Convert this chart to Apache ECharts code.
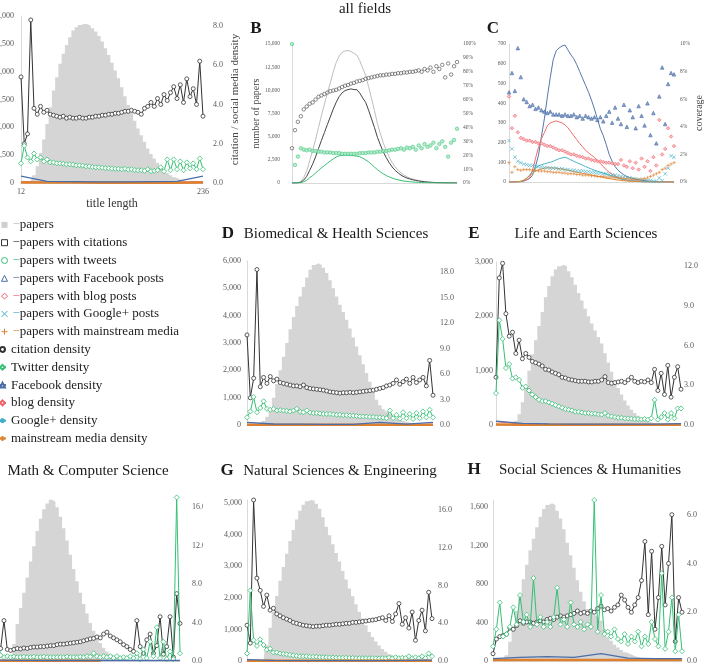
<!DOCTYPE html>
<html><head><meta charset="utf-8">
<script src="https://cdn.jsdelivr.net/npm/echarts@6/dist/echarts.min.js"></script>
<style>html,body{margin:0;padding:0;background:#fff}#c{width:706px;height:664px}</style>
</head><body><div id="c"></div>
<script>
// ---------- DATA ----------
const LEN = [12,16,20,24,28,32,36,40,44,48,52,56,60,64,68,72,76,80,84,88,92,96,100,104,108,112,116,120,124,128,132,136,140,144,148,152,156,160,164,168,172,176,180,184,188,192,196,200,204,208,212,216,220,224,228,232,236];
const TX = [12,44,76,108,140,172,204,236];

// A: all fields
const A_PAPERS = [0,0,30,200,700,1500,2700,3900,5300,6800, 8300,9500,10700,11600,12400,13100,13700,14000,14200,14300, 14250,14100,13900,13600,13200,12700,12100,11500,10800,10100, 9400,8600,7800,7000,6300,5600,4900,4300,3700,3100, 2600,2200,1800,1450,1150,900,700,520,380,270, 190,130,90,60,40,25,15];
const A_CIT = [5.4,2.0,2.5,8.3,3.8,3.5,3.9,3.6,3.7,3.5, 3.45,3.4,3.35,3.4,3.3,3.35,3.3,3.3,3.35,3.3, 3.3,3.35,3.35,3.4,3.4,3.45,3.45,3.5,3.5,3.55, 3.55,3.6,3.65,3.65,3.7,3.65,3.6,3.5,3.8,3.9, 4.1,3.9,4.3,4.0,4.5,4.2,4.6,4.9,4.3,5.0, 4.1,5.3,4.4,4.8,4.0,6.2,3.4];
const A_TW = [1.0,1.9,1.3,1.1,1.5,1.2,1.3,1.1,1.2,1.05, 1.05,1.0,1.0,0.98,0.95,0.95,0.93,0.9,0.9,0.88, 0.85,0.85,0.82,0.8,0.8,0.78,0.75,0.75,0.73,0.72, 0.72,0.7,0.72,0.68,0.7,0.66,0.65,0.65,0.62,0.7, 0.6,0.62,0.65,0.8,0.6,1.2,0.65,1.2,0.7,1.1, 0.65,1.05,0.75,1.0,0.7,1.25,0.7];
const A_FB = [0.35,0.08,0.07,0.06,0.06,0.07,0.08,0.35];
const A_BLOG = [0.08,0.04,0.03,0.03,0.03,0.03,0.04,0.08];
const A_GP = [0.03,0.02,0.02,0.01,0.01,0.01,0.02,0.03];
const A_MSM = [0.02,0.02,0.02,0.01,0.01,0.01,0.01,0.02];

// B: counts and coverage, all fields
const B_PAPERS = [0,0,30,180,600,1300,2400,3500,4700,6000, 7300,8500,9700,10800,12000,13000,13700,14100,14250,14300, 14200,14000,13800,13200,12400,11600,10400,9100,7800,6400, 5300,4300,3500,2800,2200,1750,1380,1080,850,670, 540,430,340,270,210,160,120,90,70,50, 35,25,18,12,8,5,3];
const B_CITED = [0,0,13,86,318,715,1368,2030,2820,3720, 4600,5440,6305,7128,7980,8710,9316,9729,9975,10082, 10153,10080,10074,9702,9176,8700,7852,6916,5967,4928, 4108,3333,2730,2184,1727,1374,1090,853,676,533, 432,344,274,219,168,131,97,75,56,42, 29,21,14,10,6,4,3];
const B_TWEETED = [0,0,6,40,140,300,560,800,1080,1350, 1640,1870,2130,2380,2600,2800,2940,2980,3000,3010, 2980,2940,2900,2840,2670,2490,2290,2000,1720,1440, 1190,990,800,660,530,420,340,270,205,170, 135,110,82,72,52,45,31,24,20,12, 10,7,5,2,2,2,1];
const B_CITCOV = [25,38,44,48,53,55,57,58,60,62, 63,64,65,66,66.5,67,68,69,70,70.5, 71.5,72,73,73.5,74,75,75.5,76,76.5,77, 77.5,77.5,78,78,78.5,78.5,79,79,79.5,79.5, 80,80,80.5,81,80,82,81,83,80,84, 82,85,76,86,78,84,87];
const B_TWCOV = [100,13,19,25,24,23.5,24,23,23,22.5, 22.5,22,22,22,21.5,21.5,21.5,21,21,21, 21,21,21,21.5,21.5,21.5,22,22,22,22.5, 22.5,23,23,23.5,24,24,24.5,25,24,25.5, 25,26,24,27,25,28,26,27,29,25, 28,30,26,19,29,31,39];

// C: social media counts and coverage, all fields
const C_FB = [0,0,0,0,2,5,10,18,35,80, 135,230,320,430,530,620,665,680,690,695, 670,645,625,595,560,525,490,455,415,370, 320,270,235,190,140,105,78,60,47,36, 28,22,18,14,11,9,7,5,4,3, 2,1,1,0,0,0,0];
const C_BLOG = [0,0,0,1,2,5,10,25,60,120, 175,220,250,285,300,305,310,305,300,290, 275,255,235,215,195,178,160,148,136,125, 108,94,78,62,50,40,30,22,16,12, 9,6,5,4,3,2,2,1,1,0, 0,0,0,0,0,0,0];
const C_GP = [0,0,0,1,3,8,18,35,55,72, 82,88,92,96,100,105,112,118,122,125, 120,112,105,98,92,85,78,72,66,60, 55,50,45,40,35,30,25,20,16,12, 9,7,5,4,3,2,1,1,0,0, 0,0,0,0,0,0,0];
const C_MSM = [0,0,0,1,4,10,20,33,45,55, 62,67,70,72,72,71,70,68,66,63, 60,57,53,50,47,44,41,38,35,32, 29,26,23,20,17,15,12,10,8,6, 5,4,3,2,2,1,1,0,0,0, 0,0,0,0,0,0,0];
const C_FBCOV = [6.5,7.9,6.6,9.7,7.6,6.0,5.8,5.5,5.6,5.3, 5.4,5.2,5.1,5.0,5.1,4.9,4.9,4.9,4.8,4.9, 4.8,4.8,4.9,4.7,4.8,4.6,4.8,4.7,4.6,4.7, 4.5,4.7,4.4,4.8,5.1,4.3,5.4,4.6,4.2,5.6, 4.0,5.2,4.7,3.9,5.5,4.8,4.1,5.7,3.4,5.0, 2.8,6.2,8.3,4.2,7.1,7.9,7.8];
const C_BLOGCOV = [6.2,3.9,4.8,3.6,3.2,3.1,3.0,3.0,2.9,2.9, 2.8,2.8,2.7,2.6,2.6,2.5,2.4,2.3,2.3,2.2, 2.1,2.0,2.0,1.9,1.85,1.8,1.7,1.7,1.6,1.55, 1.5,1.5,1.45,1.4,1.4,1.35,1.3,1.3,1.6,1.2, 1.1,1.5,1.0,1.4,0.9,1.7,1.1,1.5,0.8,1.8, 1.2,4.5,2.0,2.4,3.9,3.3,2.6];
const C_GPCOV = [3.0,2.4,1.8,1.5,1.4,1.3,1.25,1.2,1.2,1.15, 1.1,1.1,1.05,1.05,1.0,1.0,1.0,0.95,0.95,0.9, 0.9,0.85,0.85,0.8,0.8,0.8,0.75,0.75,0.7,0.7, 0.65,0.65,0.6,0.6,0.55,0.5,0.5,0.45,0.4,0.35, 0.3,0.3,0.25,0.2,0.2,0.15,0.1,0.1,0.1,0.05, 0.05,0.3,0.1,0.6,1.0,1.9,1.8];
const C_MSMCOV = [1.4,0.7,1.1,0.9,0.85,0.9,0.9,0.9,0.85,0.85, 0.8,0.8,0.8,0.75,0.75,0.7,0.7,0.7,0.65,0.65, 0.6,0.6,0.6,0.55,0.55,0.5,0.5,0.5,0.45,0.45, 0.4,0.4,0.4,0.35,0.35,0.35,0.3,0.3,0.3,0.25, 0.25,0.2,0.2,0.2,0.15,0.2,0.25,0.3,0.4,0.5, 0.6,0.7,0.9,1.0,1.2,1.3,1.4];

// D: Biomedical & Health Sciences
const D_PAPERS = [0,0,0,20,60,150,300,600,1000,1500, 2000,2500,3000,3500,3950,4350,4700,5050,5400,5680, 5850,5920,5850,5750,5560,5300,5000,4700,4400,4130, 3850,3530,3200,2870,2550,2220,1900,1580,1250,920, 720,580,490,400,320,240,180,140,100,75, 55,40,30,20,12,8,5];
const D_CIT = [10.6,3.2,5.5,18.3,4.5,5.6,4.9,5.7,5.2,5.4, 5.0,4.9,4.8,4.7,4.6,4.6,4.5,4.7,4.4,4.3, 4.25,4.2,4.15,4.1,4.0,3.9,3.85,3.8,3.75,3.8, 3.8,3.85,3.8,3.85,3.9,3.95,4.0,4.05,4.1,4.2, 4.3,4.4,4.6,4.7,4.9,5.3,4.8,5.1,5.4,4.9, 5.6,5.0,5.3,5.6,4.6,7.6,3.5];
const D_TW = [0.9,1.6,3.3,1.5,2.0,2.8,1.9,1.8,1.9,1.7, 1.75,1.7,1.65,1.6,1.7,1.9,1.55,1.5,1.7,1.45, 1.4,1.4,1.35,1.3,1.3,1.3,1.25,1.2,1.2,1.15, 1.15,1.1,1.1,1.05,1.0,1.0,1.0,0.95,0.95,0.9, 0.9,0.85,0.8,1.7,0.8,1.2,0.75,1.5,0.8,1.3, 0.7,1.4,0.8,1.6,0.9,1.8,0.9];
const D_FB = [0.3,0.12,0.1,0.08,0.08,0.3,0.1,0.3];
const D_BLOG = [0.08,0.05,0.04,0.04,0.04,0.05,0.05,0.08];
const D_GP = [0.03,0.02,0.02,0.02,0.01,0.01,0.02,0.03];
const D_MSM = [0.03,0.03,0.02,0.02,0.02,0.02,0.02,0.03];

// E: Life and Earth Sciences
const E_PAPERS = [0,0,0,0,10,30,80,200,420,720, 1000,1300,1560,1820,2080,2350,2560,2740,2860,2920, 2950,2920,2830,2720,2580,2430,2290,2140,2000,1870, 1740,1620,1500,1320,1150,980,820,680,560,450, 360,280,220,170,120,85,60,42,30,20, 14,9,6,4,2,1,0];
const E_CIT = [3.6,11.1,12.2,8.4,6.7,7.0,5.4,6.4,5.0,5.4, 5.1,4.8,4.7,4.6,4.45,4.2,4.15,4.0,3.9,3.8, 3.6,3.55,3.45,3.4,3.35,3.3,3.3,3.3,3.25,3.25, 3.3,3.3,3.4,3.65,3.2,3.15,3.2,3.25,3.3,3.2, 3.4,3.6,3.3,3.2,3.3,3.25,3.4,3.2,4.2,2.6, 3.9,2.3,4.5,2.1,3.6,4.4,2.7];
const E_TW = [2.4,7.9,6.5,4.3,4.6,3.5,3.6,3.4,2.8,2.9, 2.6,2.3,2.1,1.9,1.8,1.8,1.7,1.6,1.5,1.4, 1.3,1.2,1.15,1.1,1.0,1.0,0.95,0.9,0.9,0.85, 0.85,0.8,0.78,0.9,0.7,0.65,0.6,0.55,0.55,0.5, 0.5,0.48,0.45,0.45,0.42,0.45,0.4,0.5,1.9,0.4, 0.6,0.9,0.4,0.9,0.5,1.25,1.25];
const E_FB = [0.3,0.12,0.08,0.06,0.06,0.06,0.06,0.1];
const E_BLOG = [0.25,0.06,0.04,0.03,0.03,0.03,0.03,0.05];
const E_GP = [0.05,0.02,0.02,0.01,0.01,0.01,0.01,0.02];
const E_MSM = [0.03,0.02,0.02,0.01,0.01,0.01,0.01,0.02];

// F: Math & Computer Science
const F_PAPERS = [0,0,0,0,0,30,180,390,560,720, 880,1050,1210,1370,1500,1600,1660,1700,1680,1620, 1520,1400,1270,1120,970,840,720,600,500,400, 320,250,190,140,100,70,50,35,25,18, 12,8,5,3,2,1,0,0,0,0, 0,0,0,0,0,0,0];
const F_CIT = [1.2,1.0,1.3,4.2,1.2,1.1,1.2,1.3,1.25,1.35, 1.3,1.4,1.45,1.45,1.5,1.5,1.55,1.6,1.6,1.7, 1.75,1.75,1.8,1.85,1.9,1.95,2.0,2.1,2.2,2.3, 2.35,2.5,2.4,2.8,3.0,2.6,2.4,2.2,2.0,1.7, 1.5,1.2,1.0,4.2,1.5,0.8,2.2,2.8,0.8,1.6, 4.6,0.7,1.5,4.6,0.4,7.0,3.9];
const F_TW = [0.5,2.5,0.6,0.4,0.5,0.4,0.45,0.4,0.4,0.45, 0.4,0.4,0.45,0.4,0.4,0.45,0.4,0.4,0.4,0.4, 0.4,0.4,0.45,0.4,0.4,0.4,0.45,0.4,0.5,0.45, 0.8,0.5,0.4,0.5,0.4,0.5,0.3,0.5,0.3,0.4, 0.3,0.5,0.3,0.8,0.2,1.2,0.3,2.0,0.5,3.5, 0.3,2.0,0.2,1.0,0.2,17.0,0.8];
const F_FB = [0.1,0.06,0.05,0.05,0.05,0.05,0.05,0.05];
const F_BLOG = [0.05,0.04,0.03,0.03,0.03,null,null,null];
const F_GP = [0.03,0.02,0.02,0.02,0.02,null,null,null];
const F_MSM = [0.03,0.03,0.03,0.03,0.03,null,null,null];

// G: Natural Sciences & Engineering
const G_PAPERS = [0,0,0,0,0,30,500,1050,1560,2060, 2540,2980,3400,3800,4150,4480,4760,4950,5060,5100, 5080,4980,4820,4550,4250,3980,3700,3420,3150,2850, 2580,2300,2050,1800,1560,1350,1130,920,760,620, 490,380,290,210,160,120,85,60,45,32, 22,15,10,6,4,2,1];
const G_CIT = [3.8,1.9,17.1,8.8,7.5,5.8,7.0,5.4,5.6,5.0, 4.8,4.6,4.45,4.3,4.1,4.0,3.9,3.8,3.75,3.7, 3.65,3.7,3.7,3.75,3.8,3.8,3.85,3.9,3.9,3.95, 4.0,4.0,4.1,4.1,4.15,4.2,4.25,4.3,4.35,4.4, 4.5,4.6,4.3,4.8,4.2,5.0,6.1,3.9,4.6,3.5, 5.2,2.2,4.3,5.4,3.2,7.3,4.5];
const G_TW = [0.8,7.5,2.2,1.6,2.3,1.7,1.2,1.3,0.9,0.9, 0.8,0.75,0.7,0.65,0.6,0.55,0.5,0.5,0.5,0.45, 0.45,0.45,0.4,0.4,0.4,0.38,0.38,0.35,0.35,0.35, 0.35,0.33,0.33,0.3,0.3,0.3,0.3,0.3,0.3,0.28, 0.28,0.3,0.28,0.35,0.28,0.4,0.3,0.35,0.3,0.5, 0.3,0.4,0.3,0.5,0.3,0.8,0.5];
const G_FB = [0.15,0.06,0.05,0.05,0.05,0.05,0.06,0.1];
const G_BLOG = [0.06,0.04,0.03,0.03,0.03,0.03,0.03,0.05];
const G_GP = [0.02,0.02,0.01,0.01,0.01,0.01,0.01,0.02];
const G_MSM = [0.03,0.02,0.02,0.02,0.02,0.02,0.02,0.03];

// H: Social Sciences & Humanities
const H_PAPERS = [0,0,0,10,60,200,360,520,680,850, 1000,1150,1270,1390,1500,1580,1620,1640,1620,1560, 1480,1370,1230,1100,970,840,720,620,540,490, 470,450,420,330,250,210,170,140,115,90, 75,60,45,35,28,20,15,12,9,7, 5,4,3,2,1,1,0];
const H_CIT = [0.3,0.9,1.0,1.05,1.1,1.35,1.3,1.45,1.65,1.55, 1.6,1.6,1.55,1.6,1.65,1.6,1.7,1.75,1.7,1.8, 1.85,1.8,1.85,1.9,1.95,2.05,1.95,2.0,1.95,2.05, 2.0,2.15,2.25,2.1,2.15,2.05,2.2,2.3,2.7,2.5, 2.2,2.0,2.3,2.6,3.3,4.9,1.9,4.5,1.3,2.6, 4.7,2.3,4.0,6.0,0.8,2.6,2.0];
const H_TW = [0.6,1.3,2.4,1.0,1.1,1.4,2.2,1.5,2.7,1.6, 1.9,1.4,3.4,1.5,1.8,1.4,1.6,1.4,1.8,3.0, 1.5,1.7,1.4,2.4,1.5,1.4,1.6,1.3,1.5,1.4, 6.6,1.2,2.7,1.1,1.2,1.0,1.3,0.9,0.8,1.1, 0.7,1.0,0.8,1.2,0.6,1.0,0.7,1.6,0.9,0.6, 3.6,0.5,1.2,2.6,0.4,1.9,0.4];
const H_FB = [0.1,0.15,0.18,0.15,0.3,0.12,0.1,0.1];
const H_BLOG = [0.05,0.05,0.05,0.04,0.04,0.04,0.04,0.05];
const H_GP = [0.02,0.02,0.02,0.02,0.02,0.02,0.02,0.02];
const H_MSM = [0.04,0.04,0.04,0.04,0.04,0.04,0.04,0.04];

// ---------- STYLE / LAYOUT ----------
const FONT = '"Liberation Serif","Times New Roman",serif';
const K_HIST = '#d5d5d5', K_CIT = '#333333', K_TW = '#35bf73', K_FB = '#4a6ea8',
      K_BLOG = '#f0606a', K_GP = '#3fb0c8', K_MSM = '#dd8030', K_PL = '#bdbdbd', LBL = '#595959';
const SYM_X = 'path://M0,0L10,10M10,0L0,10';
const SYM_PLUS = 'path://M5,0L5,10M0,5L10,5';
const SYM_AST = 'path://M5,0L5,10M0,5L10,5M1.5,1.5L8.5,8.5M8.5,1.5L1.5,8.5';
const pairs = (xs, ys) => xs.map((x, i) => [x, ys[i]]);
const fmtN = v => Math.round(v).toLocaleString('en-US');
const fmt1 = v => v.toFixed(1);
const fmtP = v => Math.round(v) + '%';

const GRIDS = [
  {left:21, top:16, width:182, height:167},   // A
  {left:292, top:44, width:165, height:139},  // B
  {left:509, top:44, width:165, height:138},  // C
  {left:247, top:261, width:186, height:164}, // D
  {left:496, top:262, width:185, height:163}, // E
  {left:-6, top:495, width:186, height:166},  // F
  {left:247, top:500, width:185, height:161}, // G
  {left:493, top:500, width:189, height:161}  // H
];

const grid = GRIDS.map(g => Object.assign({containLabel:false, outerBoundsMode:'none'}, g));
const xAxis = [], yAxis = [], series = [];

function yAx(gi, pos, max, interval, fmt, fs, margin, extra) {
  return Object.assign({
    type:'value', gridIndex:gi, position:pos, min:0, max:max, interval:interval,
    axisLine:{show: pos === 'left', lineStyle:{color:'#d9d9d9'}},
    axisTick:{show:false}, splitLine:{show:false},
    axisLabel:{formatter:fmt, fontSize:fs, fontFamily:FONT, color:LBL, margin:margin, hideOverlap:false,
               showMaxLabel: Math.abs(max / interval - Math.round(max / interval)) < 1e-9}
  }, extra || {});
}
function xAx(gi, extra) {
  return Object.assign({
    type:'value', gridIndex:gi, min:12, max:236,
    axisLine:{show:true, lineStyle:{color:'#d9d9d9'}}, axisTick:{show:false}, splitLine:{show:false},
    axisLabel:{show:false}
  }, extra || {});
}
for (let gi = 0; gi < 8; gi++) xAxis.push(xAx(gi, gi === 0 ? {
  interval:224,
  axisLabel:{show:true, customValues:[12,236], formatter: v => (v === 12 || v === 236) ? String(v) : '',
             fontSize:8, fontFamily:FONT, color:LBL, margin:5},
  name:'title length', nameLocation:'middle', nameGap:15,
  nameTextStyle:{fontFamily:FONT, fontSize:12, color:'#333'}
} : {}));

const nameStyle = fs => ({fontFamily:FONT, fontSize:fs, color:'#444'});
// A
yAxis.push(yAx(0,'left',15000,2500,fmtN,8,7));
yAxis.push(yAx(0,'right',8.5,2,fmt1,8,10,{name:'citation / social media density', nameLocation:'middle', nameRotate:90, nameGap:27, nameTextStyle:nameStyle(11)}));
// B
yAxis.push(yAx(1,'left',15000,2500,fmtN,5.5,12,{name:'number of papers', nameLocation:'middle', nameRotate:90, nameGap:31, nameTextStyle:nameStyle(10)}));
yAxis.push(yAx(1,'right',100,10,fmtP,5.5,6));
// C
yAxis.push(yAx(2,'left',700,100,fmtN,5.5,3));
yAxis.push(yAx(2,'right',10,2,fmtP,5.5,6,{name:'coverage', nameLocation:'middle', nameRotate:90, nameGap:19, nameTextStyle:nameStyle(10)}));
// D
yAxis.push(yAx(3,'left',6000,1000,fmtN,8,6));
yAxis.push(yAx(3,'right',19.3,3,fmt1,8,7));
// E
yAxis.push(yAx(4,'left',3000,1000,fmtN,8,3));
yAxis.push(yAx(4,'right',12.3,3,fmt1,8,3));
// F
yAxis.push(yAx(5,'left',1750,400,fmtN,8,6,{axisLabel:{show:false}}));
yAxis.push(yAx(5,'right',17.25,4,fmt1,8,12));
// G
yAxis.push(yAx(6,'left',5100,1000,fmtN,8,5));
yAxis.push(yAx(6,'right',17.1,4,fmt1,8,6));
// H
yAxis.push(yAx(7,'left',1673,400,fmtN,8,5));
yAxis.push(yAx(7,'right',6.6,2,fmt1,8,5));

function histSeries(gi, ys) {
  return {type:'line', name:'papers', xAxisIndex:gi, yAxisIndex:2*gi, data:pairs(LEN, ys), step:'middle',
          symbol:'none', lineStyle:{width:0, color:K_HIST}, itemStyle:{color:K_HIST},
          areaStyle:{color:K_HIST, opacity:1}, z:1, silent:true};
}
function markerLine(name, gi, ys, color, symbol, size, z) {
  return {type:'line', name, xAxisIndex:gi, yAxisIndex:2*gi+1, data:pairs(LEN, ys), symbol, symbolSize:size,
          lineStyle:{color, width:1}, itemStyle:{color:'#fff', borderColor:color, borderWidth:0.8}, z};
}
function tinyLine(name, gi, ys, color, width, symbol, z) {
  return {type:'line', name, xAxisIndex:gi, yAxisIndex:2*gi+1, data:pairs(TX, ys), symbol, showSymbol:false,
          connectNulls:false, lineStyle:{color, width}, itemStyle:{color:'#fff', borderColor:color, borderWidth:1}, z};
}
function densityPanel(gi, d) {
  series.push(histSeries(gi, d.papers));
  series.push(markerLine('citation density', gi, d.cit, K_CIT, 'circle', 4, 3));
  series.push(markerLine('Twitter density', gi, d.tw, K_TW, 'diamond', 5, 4));
  series.push(tinyLine('blog density', gi, d.blog, K_BLOG, 1, 'diamond', 5));
  series.push(tinyLine('Google+ density', gi, d.gp, K_GP, 1, SYM_AST, 5));
  series.push(tinyLine('mainstream media density', gi, d.msm, K_MSM, 2.5, SYM_PLUS, 6));
  series.push(tinyLine('Facebook density', gi, d.fb, K_FB, 1.3, 'triangle', 7));
}
densityPanel(0, {papers:A_PAPERS, cit:A_CIT, tw:A_TW, fb:A_FB, blog:A_BLOG, gp:A_GP, msm:A_MSM});
densityPanel(3, {papers:D_PAPERS, cit:D_CIT, tw:D_TW, fb:D_FB, blog:D_BLOG, gp:D_GP, msm:D_MSM});
densityPanel(4, {papers:E_PAPERS, cit:E_CIT, tw:E_TW, fb:E_FB, blog:E_BLOG, gp:E_GP, msm:E_MSM});
densityPanel(5, {papers:F_PAPERS, cit:F_CIT, tw:F_TW, fb:F_FB, blog:F_BLOG, gp:F_GP, msm:F_MSM});
densityPanel(6, {papers:G_PAPERS, cit:G_CIT, tw:G_TW, fb:G_FB, blog:G_BLOG, gp:G_GP, msm:G_MSM});
densityPanel(7, {papers:H_PAPERS, cit:H_CIT, tw:H_TW, fb:H_FB, blog:H_BLOG, gp:H_GP, msm:H_MSM});

function countLine(name, gi, ys, color, z) {
  return {type:'line', name, xAxisIndex:gi, yAxisIndex:2*gi, data:pairs(LEN, ys), symbol:'none',
          lineStyle:{color, width:1}, itemStyle:{color}, z};
}
function covScatter(name, gi, ys, symbol, size, fill, stroke, z) {
  return {type:'scatter', name, xAxisIndex:gi, yAxisIndex:2*gi+1, data:pairs(LEN, ys), symbol, symbolSize:size,
          itemStyle:{color:fill, borderColor:stroke, borderWidth:0.8}, z};
}
// B
series.push(countLine('papers', 1, B_PAPERS, K_PL, 2));
series.push(countLine('papers with citations', 1, B_CITED, '#444', 2));
series.push(countLine('papers with tweets', 1, B_TWEETED, K_TW, 2));
series.push(covScatter('papers with citations', 1, B_CITCOV, 'circle', 3.5, 'rgba(255,255,255,0.5)', '#4a4a4a', 3));
series.push(covScatter('papers with tweets', 1, B_TWCOV, 'circle', 3.5, '#a8e6c3', '#4cc985', 3));
// C
series.push(countLine('papers with Facebook posts', 2, C_FB, '#5577aa', 2));
series.push(countLine('papers with blog posts', 2, C_BLOG, '#f26b6b', 2));
series.push(countLine('papers with Google+ posts', 2, C_GP, '#4db3c4', 2));
series.push(countLine('papers with mainstream media', 2, C_MSM, '#e08a32', 2));
series.push(covScatter('papers with Facebook posts', 2, C_FBCOV, 'triangle', 3.5, '#6f8cbc', '#4a6ea8', 3));
series.push(covScatter('papers with blog posts', 2, C_BLOGCOV, 'diamond', 3.5, '#f9b0b3', '#f0606a', 3));
series.push(covScatter('papers with Google+ posts', 2, C_GPCOV, SYM_X, 3.5, 'transparent', '#3fb0c8', 3));
series.push(covScatter('papers with mainstream media', 2, C_MSMCOV, SYM_PLUS, 3.5, 'transparent', '#dd8030', 3));

// ---------- LEGEND ----------
const DASH = {'papers':'g','papers with citations':'k','papers with tweets':'gr','papers with Facebook posts':'b',
              'papers with blog posts':'r','papers with Google+ posts':'c','papers with mainstream media':'o'};
const LH = 17.8, LFS = 13;
const rt = c => ({color:c, fontFamily:FONT, fontSize:LFS, lineHeight:LH});
const legendText = {fontFamily:FONT, fontSize:LFS, color:'#222', lineHeight:LH,
  rich:{t:rt('#222'), g:rt('#b8b8b8'), k:rt('#333'), gr:rt(K_TW), b:rt(K_FB), r:rt(K_BLOG), c:rt(K_GP), o:rt(K_MSM)}};
const legend = [
  {orient:'vertical', left:1, top:216, padding:0, itemWidth:6, itemHeight:6, itemGap:0, selectedMode:false,
   textStyle:legendText, formatter: n => '{' + DASH[n] + '|−}{t|' + n + '}',
   data:[
     {name:'papers', icon:'rect', itemStyle:{color:'#cfcfcf', borderWidth:0}},
     {name:'papers with citations', icon:'rect', itemStyle:{color:'#fff', borderColor:'#333', borderWidth:1}},
     {name:'papers with tweets', icon:'circle', itemStyle:{color:'#fff', borderColor:K_TW, borderWidth:1}},
     {name:'papers with Facebook posts', icon:'triangle', itemStyle:{color:'#fff', borderColor:K_FB, borderWidth:1}},
     {name:'papers with blog posts', icon:'diamond', itemStyle:{color:'#fff', borderColor:K_BLOG, borderWidth:1}},
     {name:'papers with Google+ posts', icon:SYM_X, itemStyle:{color:'transparent', borderColor:K_GP, borderWidth:1}},
     {name:'papers with mainstream media', icon:SYM_PLUS, itemStyle:{color:'transparent', borderColor:K_MSM, borderWidth:1}}
   ]},
  {orient:'vertical', left:-2, top:216 + 7*LH, padding:0, itemWidth:7, itemHeight:6, itemGap:0, selectedMode:false,
   textStyle:{fontFamily:FONT, fontSize:LFS, color:'#222', lineHeight:LH},
   data:['citation density','Twitter density','Facebook density','blog density','Google+ density','mainstream media density']}
];

// ---------- TEXT ----------
const TEXTS = [
  ['all fields', 365, 9, 15, 'normal'],
  ['B', 256, 29, 17, 'bold'], ['C', 493, 29, 17, 'bold'],
  ['D', 228, 234, 17, 'bold'], ['Biomedical & Health Sciences', 336, 234, 15, 'normal'],
  ['E', 474, 234, 17, 'bold'], ['Life and Earth Sciences', 586, 234, 15, 'normal'],
  ['Math & Computer Science', 88, 471, 15, 'normal'],
  ['G', 227, 471, 17, 'bold'], ['Natural Sciences & Engineering', 340, 471, 15, 'normal'],
  ['H', 474, 470, 17, 'bold'], ['Social Sciences & Humanities', 590, 470, 15, 'normal']
];
const graphic = TEXTS.map(t => ({type:'text', x:t[1], y:t[2], z:50,
  style:{text:t[0], fontFamily:FONT, fontSize:t[3], fontWeight:t[4], fill:'#1a1a1a', align:'center', verticalAlign:'middle'}}));
graphic.push({type:'rect', shape:{x:203, y:490, width:15, height:176}, style:{fill:'#fff'}, z:100});

const chart = echarts.init(document.getElementById('c'), null, {renderer:'canvas'});
chart.setOption({animation:false, backgroundColor:'#fff', textStyle:{fontFamily:FONT},
  grid, xAxis, yAxis, series, legend, graphic});
</script></body></html>
